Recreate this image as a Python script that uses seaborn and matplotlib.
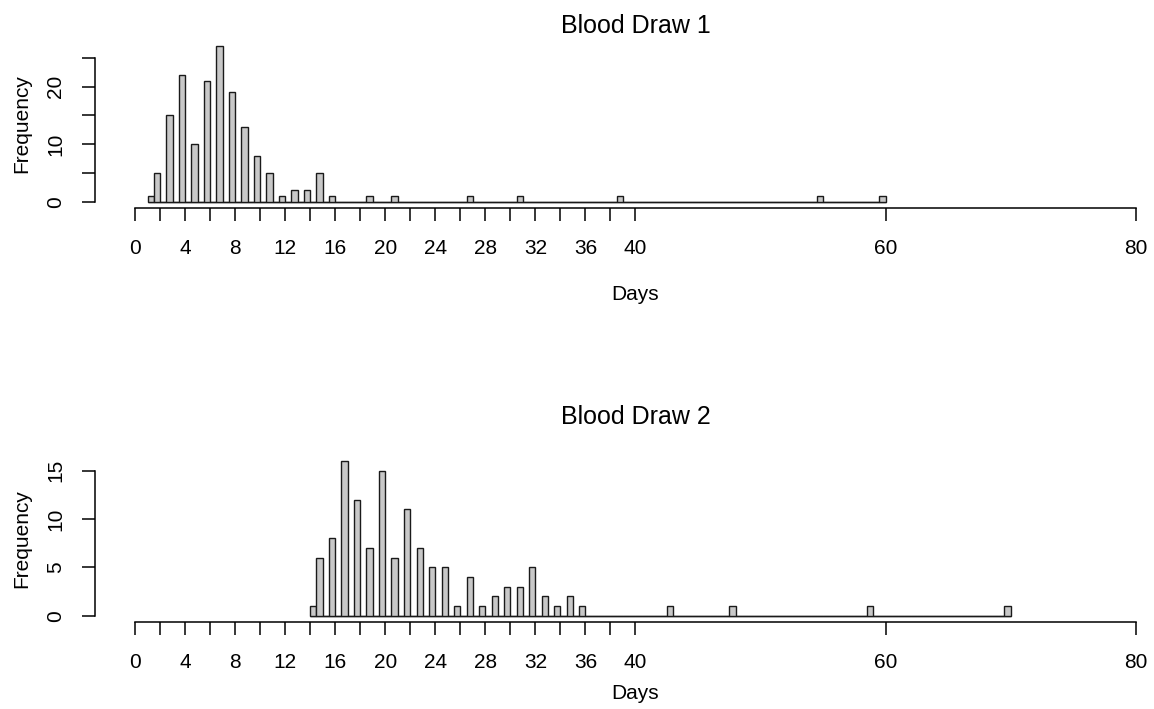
import numpy as np
import pandas as pd
import matplotlib
matplotlib.use("Agg")
import matplotlib.pyplot as plt
import seaborn as sns

# days until the blood draw and how many subjects had each value
draw1_days = [1, 2, 3, 4, 5, 6, 7, 8, 9, 10, 11, 12, 13, 14, 15, 16, 19, 21, 27, 31, 39, 55, 60]
draw1_counts = [1, 5, 15, 22, 10, 21, 27, 19, 13, 8, 5, 1, 2, 2, 5, 1, 1, 1, 1, 1, 1, 1, 1]

draw2_days = [14, 15, 16, 17, 18, 19, 20, 21, 22, 23, 24, 25, 26, 27, 28, 29, 30, 31, 32,
              33, 34, 35, 36, 43, 48, 59, 70]
draw2_counts = [1, 6, 8, 16, 12, 7, 15, 6, 11, 7, 5, 5, 1, 4, 1, 2, 3, 3, 5, 2, 1, 2, 1,
                1, 1, 1, 1]

x_ticks = list(range(0, 41, 2)) + [60, 80]
x_labels = [str(t) if (t % 4 == 0 or t > 40) else "" for t in x_ticks]

panels = [
    ("Blood Draw 1", draw1_days, draw1_counts, [0, 5, 10, 15, 20, 25], ["0", "", "10", "", "20", ""]),
    ("Blood Draw 2", draw2_days, draw2_counts, [0, 5, 10, 15], ["0", "5", "10", "15"]),
]

sns.set_style("ticks")
plt.rcParams["font.family"] = ["Liberation Sans", "DejaVu Sans"]
plt.rcParams["text.color"] = "black"
plt.rcParams["axes.labelcolor"] = "black"

W, H = 1154, 709
fig = plt.figure(figsize=(W / 100, H / 100), dpi=100)

# axes boxes in pixels: (top, bottom) of the plot region, plus layout tweaks
boxes = [(40.2, 207.9, 1.085, -0.519), (454.8, 621.9, 1.226, -0.431)]
left_px = 95
px_per_day = 12.51
bar_edge = "#1a1a1a"

for (title, days, counts, yt, ylab), (top, bot, title_y, xlab_y) in zip(panels, boxes):
    ax = fig.add_axes([left_px / W, 1 - bot / H, (W - left_px) / W, (bot - top) / H])

    df = pd.DataFrame({"days": days, "n": counts})
    # R's hist() uses right-closed bins of 0.5 day: day k sits in (k-0.5, k],
    # the lowest day in [k, k+0.5]
    lo, hi = df["days"].min(), df["days"].max()
    df["mid"] = np.where(df["days"] == lo, df["days"] + 0.25, df["days"] - 0.25)

    sns.histplot(data=df, x="mid", weights="n", binwidth=0.5, binrange=(lo, hi), ax=ax,
                 color="#C8C8C8", edgecolor=bar_edge, linewidth=1.0, alpha=1)
    # empty bins are flat boxes; agg strokes those very faintly, so redo the baseline
    ax.hlines(0, lo, hi, color=bar_edge, linewidth=1.0, zorder=0.5)

    ymax = max(counts)
    ax.set_ylim(-0.04 * ymax, 1.04 * ymax)
    ax.set_xlim(-3.2, -3.2 + (W - left_px) / px_per_day)

    ax.set_xticks(x_ticks)
    ax.set_xticklabels(x_labels)
    ax.set_yticks(yt)
    ax.set_yticklabels(ylab, rotation=90, va="center")

    ax.tick_params(axis="both", direction="out", length=9.5, width=1.1,
                   labelsize=15, colors="black")
    ax.tick_params(axis="x", pad=13)
    ax.tick_params(axis="y", pad=12)

    sns.despine(ax=ax)
    ax.spines["left"].set_bounds(yt[0], yt[-1])
    ax.spines["bottom"].set_bounds(0, 80)
    for s in ("left", "bottom"):
        ax.spines[s].set_linewidth(1.1)
        ax.spines[s].set_color("black")

    ax.set_title(title, fontsize=18, y=title_y, va="center", pad=0, color="black")
    ax.title.set_x(0.5104)
    ax.set_xlabel("Days", fontsize=15, va="center")
    ax.xaxis.set_label_coords(0.5104, xlab_y)
    ax.set_ylabel("Frequency", fontsize=15, va="center")
    ax.yaxis.set_label_coords(-0.0689, 0.5)

fig.savefig("out.png", dpi=100)
